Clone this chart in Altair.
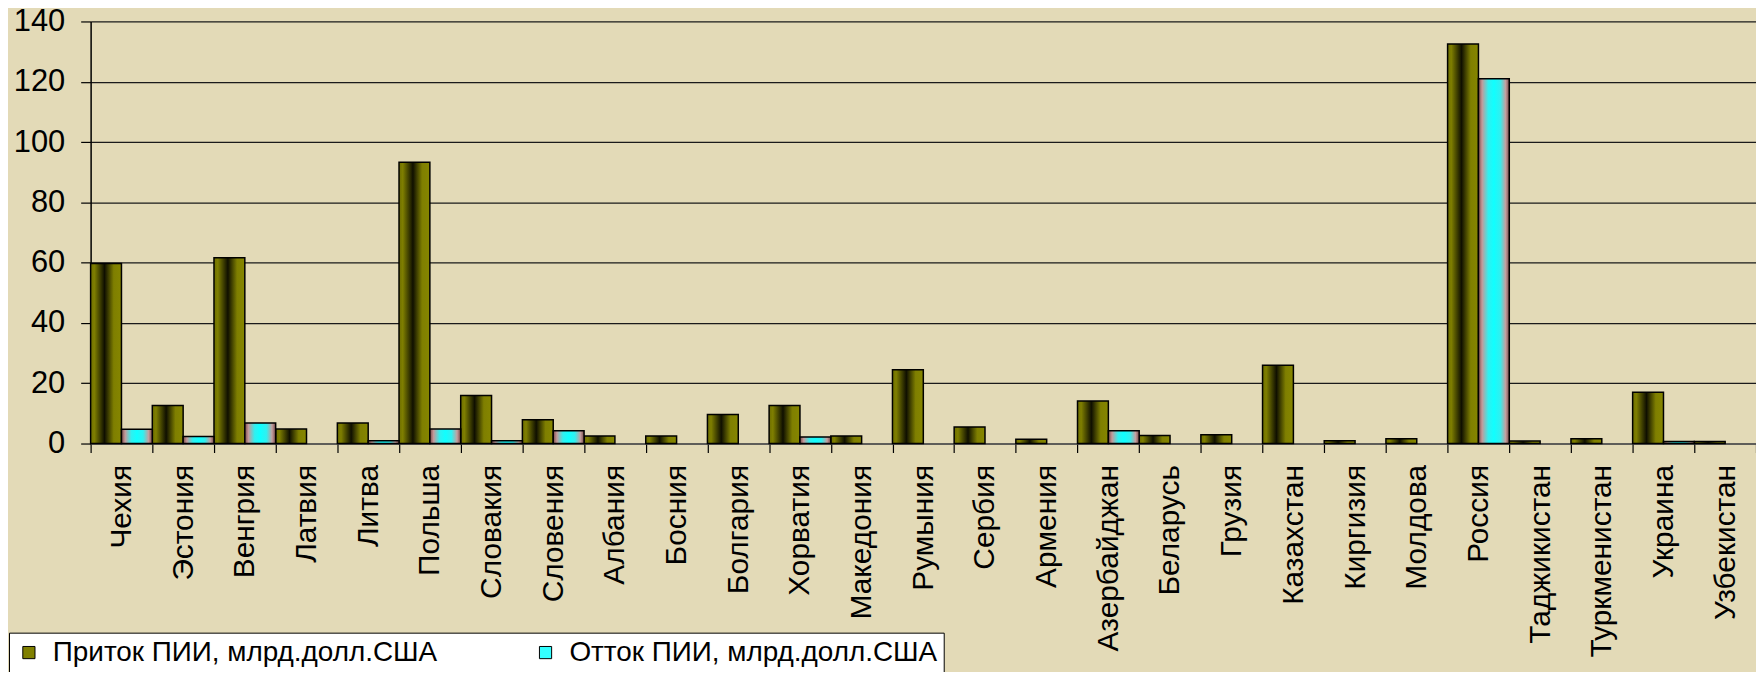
import altair as alt
import pandas as pd

countries = ["Чехия", "Эстония", "Венгрия", "Латвия", "Литва", "Польша", "Словакия",
             "Словения", "Албания", "Босния", "Болгария", "Хорватия", "Македония",
             "Румыния", "Сербия", "Армения", "Азербайджан", "Беларусь", "Грузия",
             "Казахстан", "Киргизия", "Молдова", "Россия", "Таджикистан",
             "Туркменистан", "Украина", "Узбекистан"]
inflow = [59.7, 12.6, 61.6, 4.8, 6.8, 93.3, 15.9, 7.9, 2.5, 2.5, 9.6, 12.6, 2.5,
          24.5, 5.5, 1.4, 14.1, 2.7, 2.9, 26.0, 0.9, 1.6, 132.5, 0.8, 1.6, 17.0, 0.7]
outflow = [4.7, 2.3, 6.8, 0, 0.9, 4.8, 0.9, 4.2, 0, 0, 0, 2.2, 0, 0, 0, 0, 4.2,
           0, 0, 0, 0, 0, 121.0, 0, 0, 0.7, 0]
series_names = ["Приток ПИИ, млрд.долл.США", "Отток ПИИ, млрд.долл.США"]
y_ticks = [0, 20, 40, 60, 80, 100, 120, 140]

rows = []
for c, a, b in zip(countries, inflow, outflow):
    rows.append({"country": c, "series": series_names[0], "value": a})
    rows.append({"country": c, "series": series_names[1], "value": b})
df = pd.DataFrame(rows)

olive_grad = {
    "gradient": "linear", "x1": 0, "y1": 0, "x2": 1, "y2": 0,
    "stops": [
        {"offset": 0.0, "color": "#6e6e00"},
        {"offset": 0.12, "color": "#7f7f00"},
        {"offset": 0.45, "color": "#0f0f00"},
        {"offset": 0.75, "color": "#7f7f00"},
        {"offset": 1.0, "color": "#868600"},
    ],
}
cyan_grad = {
    "gradient": "linear", "x1": 0, "y1": 0, "x2": 1, "y2": 0,
    "stops": [
        {"offset": 0.0, "color": "#7a4a4a"},
        {"offset": 0.12, "color": "#c49a9a"},
        {"offset": 0.32, "color": "#30f0f0"},
        {"offset": 0.5, "color": "#10ffff"},
        {"offset": 0.7, "color": "#30f0f0"},
        {"offset": 0.88, "color": "#c4a0a0"},
        {"offset": 1.0, "color": "#7a4a4a"},
    ],
}

FONT = "Liberation Sans"

x_enc = alt.X(
    "country:N", sort=countries,
    scale=alt.Scale(domain=countries, paddingInner=0, paddingOuter=0),
    axis=alt.Axis(title=None, labelAngle=-90, labelFontSize=30, labelFont=FONT,
                  labelColor="black", tickBand="extent", tickSize=9,
                  tickColor="black", tickWidth=1.2, domainColor="#555555",
                  domainWidth=1.5, labelPadding=12, labelLimit=400, grid=False),
)
xoff_enc = alt.XOffset(
    "series:N", sort=series_names,
    scale=alt.Scale(domain=series_names, paddingInner=0, paddingOuter=0),
)
y_enc = alt.Y(
    "value:Q",
    scale=alt.Scale(domain=[0, 140], nice=False),
    axis=alt.Axis(title=None, values=y_ticks, labelFontSize=31, labelFont=FONT,
                  labelColor="black", labelPadding=16, tickSize=10,
                  tickColor="black", tickWidth=1.2, domainColor="black",
                  domainWidth=1.5, grid=True, gridColor="#1a1a1a",
                  gridWidth=1.2),
)

base = alt.Chart(df)

bars_in = base.transform_filter(
    (alt.datum.series == series_names[0]) & (alt.datum.value > 0)
).mark_bar(fill=olive_grad, stroke="black", strokeWidth=1.5).encode(
    x=x_enc, xOffset=xoff_enc, y=y_enc
)

bars_out = base.transform_filter(
    (alt.datum.series == series_names[1]) & (alt.datum.value > 0)
).mark_bar(fill=cyan_grad, stroke="black", strokeWidth=1.5).encode(
    x=x_enc, xOffset=xoff_enc, y=y_enc
)

label_expr = (
    "(datum.index == 1 || indexof(datum.label, 'Отток') == 0)"
    " ? datum.label + '\u2003\u2003\u2003' : datum.label"
)

legend_layer = base.transform_filter("datum.value < 0").mark_bar().encode(
    x=x_enc, xOffset=xoff_enc, y=y_enc,
    color=alt.Color(
        "series:N",
        scale=alt.Scale(domain=series_names, range=["#808000", "#33ffff"]),
        legend=alt.Legend(
            title=None,
            orient="none", legendX=-82, legendY=614, direction="horizontal",
            fillColor="white", strokeColor="black", padding=6,
            symbolType="square", symbolSize=150, symbolStrokeColor="black",
            symbolStrokeWidth=1, symbolOpacity=1,
            labelFontSize=28, labelFont=FONT, labelColor="black",
            labelOffset=10, labelLimit=800, columnPadding=94,
            labelExpr=label_expr,
        ),
    ),
)

chart = alt.layer(bars_in, bars_out, legend_layer).properties(
    width=1673, height=424,
    padding={"left": 83, "top": 12, "right": 0, "bottom": 228},
    autosize=alt.AutoSizeParams(type="none"),
).configure(background="#E3DAB7").configure_view(stroke=None)

chart.save("out.html", embed_options={"renderer": "svg", "actions": False})
